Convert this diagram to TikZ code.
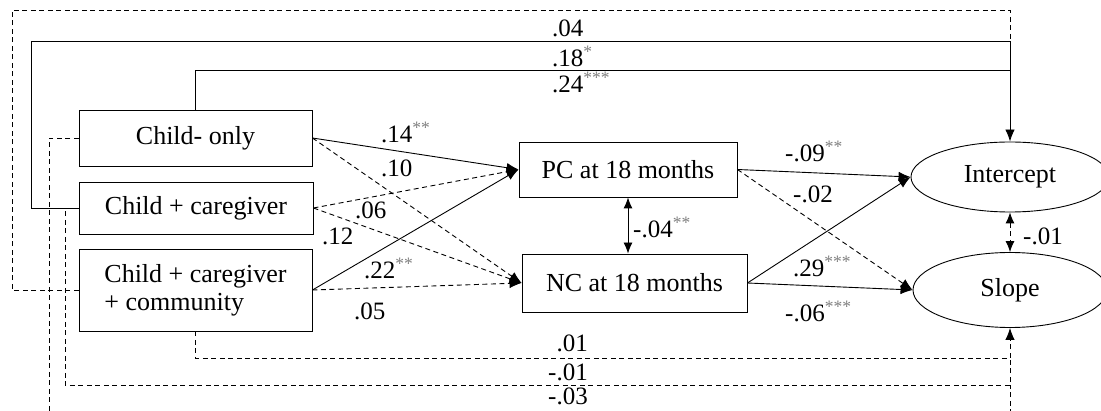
\documentclass[tikz,border=0pt]{standalone}
\usepackage{fontspec}
\setmainfont{Liberation Serif}
\usetikzlibrary{arrows.meta,shapes.geometric}
\newcommand\sig[1]{\textsuperscript{\textcolor{gray}{#1}}}
\begin{document}
\begin{tikzpicture}[x=1pt,y=-1pt,
  every node/.style={font=\fontsize{26}{28}\selectfont},
  box/.style={draw,line width=0.9pt,inner sep=0pt,align=center},
  lat/.style={shape=ellipse,draw,line width=0.9pt,inner sep=0pt},
  lbl/.style={inner sep=0pt,anchor=base west,font=\fontsize{25}{27}\selectfont},
  con/.style={line width=0.9pt},
  dsh/.style={con,dash pattern=on 5pt off 3.5pt},
  arr/.style={-{Latex[length=12pt,width=9.5pt]}},
  darr/.style={{Latex[length=11pt,width=9pt]}-{Latex[length=11pt,width=9pt]}}]
\useasboundingbox (0,0) rectangle (1101,411);
\clip (0,0) rectangle (1101,411);
% nodes
\node[box,minimum width=233pt,minimum height=56pt] (co) at (195.5,138) {Child- only};
\node[box,minimum width=234pt,minimum height=52pt] (cc) at (196,208) {Child + caregiver};
\node[box,minimum width=233pt,minimum height=82pt,align=left] (ccc) at (195.5,290) {Child + caregiver\\+ community};
\node[box,minimum width=218pt,minimum height=55pt] (pc) at (628,169.5) {PC at 18 months};
\node[box,minimum width=225pt,minimum height=58pt] (nc) at (634.5,283) {NC at 18 months};
\node[lat,minimum width=198pt,minimum height=70pt] (int) at (1010,177) {Intercept};
\node[lat,minimum width=194pt,minimum height=75pt] (slo) at (1010,290) {Slope};
% routing coordinates
\coordinate (a1) at (12,10);
\coordinate (j1) at (1010,10);
\coordinate (j2) at (1010,41);
\coordinate (j3) at (1010,70);
\coordinate (a2) at (31,41);
\coordinate (b3) at (49,414);
\coordinate (k3) at (1010,414);
\coordinate (b2) at (65,385);
\coordinate (k2) at (1010,385);
\coordinate (k1) at (1010,358);
% top paths to intercept
\draw[dsh] (ccc.west) -| (a1) -- (j1) -- (j2);
\draw[con] (cc.west) -| (a2) -- (j2) -- (j3);
\draw[con,arr] (co.north) |- (j3) -- (int.north);
% bottom paths to slope
\draw[dsh] (co.west) -| (b3) -- (k3) -- (k2);
\draw[dsh] (cc.west) -| (b2) -- (k2) -- (k1);
\draw[dsh,arr] (ccc.south) |- (k1) -- (slo.south);
% middle paths
\draw[con,arr] (co.east) -- (pc.west);
\draw[dsh,arr] (co.east) -- (nc.west);
\draw[dsh,arr] (cc.east) -- (pc.west);
\draw[dsh,arr] (cc.east) -- (nc.west);
\draw[con,arr] (ccc.east) -- (pc.west);
\draw[dsh,arr] (ccc.east) -- (nc.west);
\draw[con,arr] (pc.east) -- (int.west);
\draw[dsh,arr] (pc.east) -- (slo.west);
\draw[con,arr] (nc.east) -- (int.west);
\draw[con,arr] (nc.east) -- (slo.west);
\draw[con,darr] (pc.south) -- (pc.south |- nc.north);
\draw[dsh,darr] (int.south) -- (slo.north);
% labels
\node[lbl] (t1) at (552,37) {.04};
\node[lbl] (t2) at (552,67) {.18\sig{*}};
\node[lbl] (t3) at (552,93) {.24\sig{***}};
\node[lbl] (m1) at (381,143) {.14\sig{**}};
\node[lbl] (m2) at (381,177) {.10};
\node[lbl] (m3) at (355,219) {.06};
\node[lbl] (m4) at (322,245) {.12};
\node[lbl] (m5) at (364,279) {.22\sig{**}};
\node[lbl] (m6) at (354,320) {.05};
\node[lbl] (r1) at (785,162) {-.09\sig{**}};
\node[lbl] (r2) at (793,203) {-.02};
\node[lbl] (r3) at (793,277) {.29\sig{***}};
\node[lbl] (r4) at (785,322) {-.06\sig{***}};
\node[lbl] (c1) at (633,238) {-.04\sig{**}};
\node[lbl] (c2) at (1023,245) {-.01};
\node[lbl,anchor=base east] (bl1) at (588,352) {.01};
\node[lbl,anchor=base east] (bl2) at (588,381) {-.01};
\node[lbl,anchor=base east] (bl3) at (588,405) {-.03};
\end{tikzpicture}
\end{document}
